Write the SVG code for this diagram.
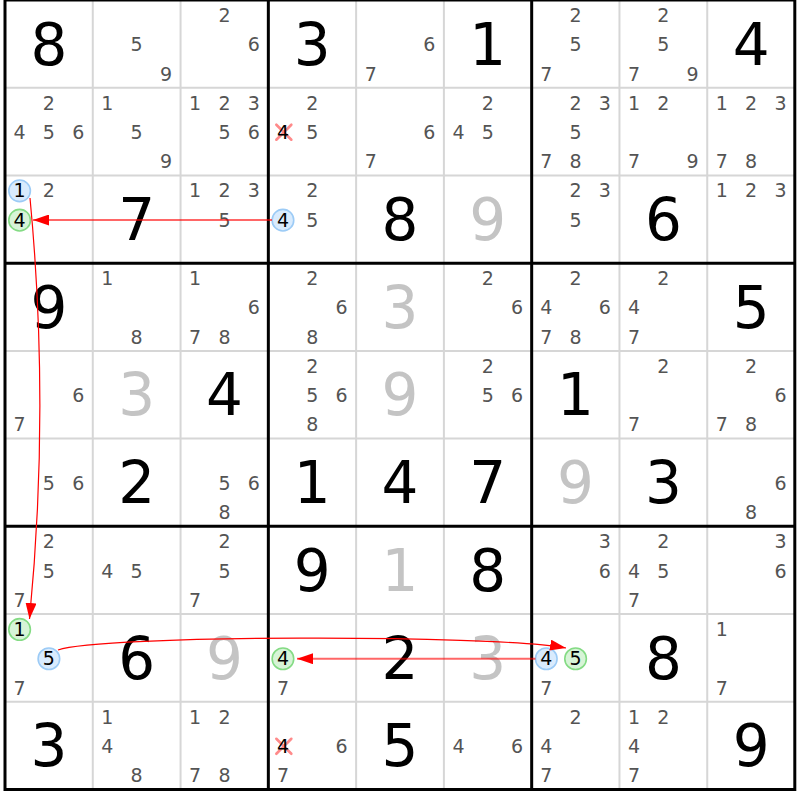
<svg xmlns="http://www.w3.org/2000/svg" width="800" height="800" viewBox="0 0 800 800">
<defs>
<style>
text{font-family:"DejaVu Sans","Liberation Sans",sans-serif;text-anchor:middle}
.c{font-size:19px;fill:#545454}
.k{font-size:19px;fill:#000}
.g{font-size:58px;fill:#000}
.s{font-size:58px;fill:#c4c4c4}
.thin{stroke:#d6d6d6;stroke-width:2}
.thick{stroke:#000;stroke-width:3}
.bl{fill:#d9ebfd;stroke:#9ccbf6;stroke-width:1.6}
.gr{fill:#d7f4d7;stroke:#84db84;stroke-width:1.6}
.x{stroke:#ff8a8a;stroke-width:2.6;stroke-linecap:round}
.lk{fill:none;stroke:#ff0000;stroke-width:2;stroke-opacity:0.6}
.cv{fill:none;stroke:#ff0000;stroke-width:1.2}
</style>
<marker id="ah" viewBox="0 0 16 11" refX="16" refY="5.5" markerWidth="16" markerHeight="11" markerUnits="userSpaceOnUse" orient="auto"><path d="M0,0 L16,5.5 L0,11 z" fill="#ff0000"/></marker>
</defs>
<rect x="0" y="0" width="800" height="800" fill="#fff"/>
<g id="grid">
<path class="thin" d="M92.78,0V789.5M180.56,0V789.5M356.12,0V789.5M443.9,0V789.5M619.46,0V789.5M707.24,0V789.5M5,87.72H794.8M5,175.44H794.8M5,350.88H794.8M5,438.6H794.8M5,614.04H794.8M5,701.76H794.8"/>
<path class="thick" d="M268.34,0V789.5M531.68,0V789.5M5,263.16H794.8M5,526.32H794.8"/>
<rect class="thick" x="5" y="0" width="789.8" height="789.5" fill="none"/>
</g>
<!-- row 1 -->
<g id="r1c1" transform="translate(5,0)"><text class="g" x="43.9" y="64.5">8</text></g>
<g id="r1c2" transform="translate(92.78,0)"><text class="c" x="43.9" y="51.3">5</text><text class="c" x="73.2" y="80.6">9</text></g>
<g id="r1c3" transform="translate(180.56,0)"><text class="c" x="43.9" y="22">2</text><text class="c" x="73.2" y="51.3">6</text></g>
<g id="r1c4" transform="translate(268.34,0)"><text class="g" x="43.9" y="64.5">3</text></g>
<g id="r1c5" transform="translate(356.12,0)"><text class="c" x="73.2" y="51.3">6</text><text class="c" x="14.6" y="80.6">7</text></g>
<g id="r1c6" transform="translate(443.9,0)"><text class="g" x="43.9" y="64.5">1</text></g>
<g id="r1c7" transform="translate(531.68,0)"><text class="c" x="43.9" y="22">2</text><text class="c" x="43.9" y="51.3">5</text><text class="c" x="14.6" y="80.6">7</text></g>
<g id="r1c8" transform="translate(619.46,0)"><text class="c" x="43.9" y="22">2</text><text class="c" x="43.9" y="51.3">5</text><text class="c" x="14.6" y="80.6">7</text><text class="c" x="73.2" y="80.6">9</text></g>
<g id="r1c9" transform="translate(707.24,0)"><text class="g" x="43.9" y="64.5">4</text></g>
<!-- row 2 -->
<g id="r2c1" transform="translate(5,87.72)"><text class="c" x="43.9" y="22">2</text><text class="c" x="14.6" y="51.3">4</text><text class="c" x="43.9" y="51.3">5</text><text class="c" x="73.2" y="51.3">6</text></g>
<g id="r2c2" transform="translate(92.78,87.72)"><text class="c" x="14.6" y="22">1</text><text class="c" x="43.9" y="51.3">5</text><text class="c" x="73.2" y="80.6">9</text></g>
<g id="r2c3" transform="translate(180.56,87.72)"><text class="c" x="14.6" y="22">1</text><text class="c" x="43.9" y="22">2</text><text class="c" x="73.2" y="22">3</text><text class="c" x="43.9" y="51.3">5</text><text class="c" x="73.2" y="51.3">6</text></g>
<g id="r2c4" transform="translate(268.34,87.72)"><text class="c" x="43.9" y="22">2</text><path class="x" d="M8,37L23,52M23,37L8,52"/><text class="k" x="14.6" y="51.3">4</text><text class="c" x="43.9" y="51.3">5</text></g>
<g id="r2c5" transform="translate(356.12,87.72)"><text class="c" x="73.2" y="51.3">6</text><text class="c" x="14.6" y="80.6">7</text></g>
<g id="r2c6" transform="translate(443.9,87.72)"><text class="c" x="43.9" y="22">2</text><text class="c" x="14.6" y="51.3">4</text><text class="c" x="43.9" y="51.3">5</text></g>
<g id="r2c7" transform="translate(531.68,87.72)"><text class="c" x="43.9" y="22">2</text><text class="c" x="73.2" y="22">3</text><text class="c" x="43.9" y="51.3">5</text><text class="c" x="14.6" y="80.6">7</text><text class="c" x="43.9" y="80.6">8</text></g>
<g id="r2c8" transform="translate(619.46,87.72)"><text class="c" x="14.6" y="22">1</text><text class="c" x="43.9" y="22">2</text><text class="c" x="14.6" y="80.6">7</text><text class="c" x="73.2" y="80.6">9</text></g>
<g id="r2c9" transform="translate(707.24,87.72)"><text class="c" x="14.6" y="22">1</text><text class="c" x="43.9" y="22">2</text><text class="c" x="73.2" y="22">3</text><text class="c" x="14.6" y="80.6">7</text><text class="c" x="43.9" y="80.6">8</text></g>
<!-- row 3 -->
<g id="r3c1" transform="translate(5,175.44)"><circle class="bl" cx="14.6" cy="15.4" r="10.8"/><text class="k" x="14.6" y="22">1</text><text class="c" x="43.9" y="22">2</text><circle class="gr" cx="14.6" cy="44.7" r="10.8"/><text class="k" x="14.6" y="51.3">4</text></g>
<g id="r3c2" transform="translate(92.78,175.44)"><text class="g" x="43.9" y="64.5">7</text></g>
<g id="r3c3" transform="translate(180.56,175.44)"><text class="c" x="14.6" y="22">1</text><text class="c" x="43.9" y="22">2</text><text class="c" x="73.2" y="22">3</text><text class="c" x="43.9" y="51.3">5</text></g>
<g id="r3c4" transform="translate(268.34,175.44)"><text class="c" x="43.9" y="22">2</text><circle class="bl" cx="14.6" cy="44.7" r="10.8"/><text class="k" x="14.6" y="51.3">4</text><text class="c" x="43.9" y="51.3">5</text></g>
<g id="r3c5" transform="translate(356.12,175.44)"><text class="g" x="43.9" y="64.5">8</text></g>
<g id="r3c6" transform="translate(443.9,175.44)"><text class="s" x="43.9" y="64.5">9</text></g>
<g id="r3c7" transform="translate(531.68,175.44)"><text class="c" x="43.9" y="22">2</text><text class="c" x="73.2" y="22">3</text><text class="c" x="43.9" y="51.3">5</text></g>
<g id="r3c8" transform="translate(619.46,175.44)"><text class="g" x="43.9" y="64.5">6</text></g>
<g id="r3c9" transform="translate(707.24,175.44)"><text class="c" x="14.6" y="22">1</text><text class="c" x="43.9" y="22">2</text><text class="c" x="73.2" y="22">3</text></g>
<!-- row 4 -->
<g id="r4c1" transform="translate(5,263.16)"><text class="g" x="43.9" y="64.5">9</text></g>
<g id="r4c2" transform="translate(92.78,263.16)"><text class="c" x="14.6" y="22">1</text><text class="c" x="43.9" y="80.6">8</text></g>
<g id="r4c3" transform="translate(180.56,263.16)"><text class="c" x="14.6" y="22">1</text><text class="c" x="73.2" y="51.3">6</text><text class="c" x="14.6" y="80.6">7</text><text class="c" x="43.9" y="80.6">8</text></g>
<g id="r4c4" transform="translate(268.34,263.16)"><text class="c" x="43.9" y="22">2</text><text class="c" x="73.2" y="51.3">6</text><text class="c" x="43.9" y="80.6">8</text></g>
<g id="r4c5" transform="translate(356.12,263.16)"><text class="s" x="43.9" y="64.5">3</text></g>
<g id="r4c6" transform="translate(443.9,263.16)"><text class="c" x="43.9" y="22">2</text><text class="c" x="73.2" y="51.3">6</text></g>
<g id="r4c7" transform="translate(531.68,263.16)"><text class="c" x="43.9" y="22">2</text><text class="c" x="14.6" y="51.3">4</text><text class="c" x="73.2" y="51.3">6</text><text class="c" x="14.6" y="80.6">7</text><text class="c" x="43.9" y="80.6">8</text></g>
<g id="r4c8" transform="translate(619.46,263.16)"><text class="c" x="43.9" y="22">2</text><text class="c" x="14.6" y="51.3">4</text><text class="c" x="14.6" y="80.6">7</text></g>
<g id="r4c9" transform="translate(707.24,263.16)"><text class="g" x="43.9" y="64.5">5</text></g>
<!-- row 5 -->
<g id="r5c1" transform="translate(5,350.88)"><text class="c" x="73.2" y="51.3">6</text><text class="c" x="14.6" y="80.6">7</text></g>
<g id="r5c2" transform="translate(92.78,350.88)"><text class="s" x="43.9" y="64.5">3</text></g>
<g id="r5c3" transform="translate(180.56,350.88)"><text class="g" x="43.9" y="64.5">4</text></g>
<g id="r5c4" transform="translate(268.34,350.88)"><text class="c" x="43.9" y="22">2</text><text class="c" x="43.9" y="51.3">5</text><text class="c" x="73.2" y="51.3">6</text><text class="c" x="43.9" y="80.6">8</text></g>
<g id="r5c5" transform="translate(356.12,350.88)"><text class="s" x="43.9" y="64.5">9</text></g>
<g id="r5c6" transform="translate(443.9,350.88)"><text class="c" x="43.9" y="22">2</text><text class="c" x="43.9" y="51.3">5</text><text class="c" x="73.2" y="51.3">6</text></g>
<g id="r5c7" transform="translate(531.68,350.88)"><text class="g" x="43.9" y="64.5">1</text></g>
<g id="r5c8" transform="translate(619.46,350.88)"><text class="c" x="43.9" y="22">2</text><text class="c" x="14.6" y="80.6">7</text></g>
<g id="r5c9" transform="translate(707.24,350.88)"><text class="c" x="43.9" y="22">2</text><text class="c" x="73.2" y="51.3">6</text><text class="c" x="14.6" y="80.6">7</text><text class="c" x="43.9" y="80.6">8</text></g>
<!-- row 6 -->
<g id="r6c1" transform="translate(5,438.6)"><text class="c" x="43.9" y="51.3">5</text><text class="c" x="73.2" y="51.3">6</text></g>
<g id="r6c2" transform="translate(92.78,438.6)"><text class="g" x="43.9" y="64.5">2</text></g>
<g id="r6c3" transform="translate(180.56,438.6)"><text class="c" x="43.9" y="51.3">5</text><text class="c" x="73.2" y="51.3">6</text><text class="c" x="43.9" y="80.6">8</text></g>
<g id="r6c4" transform="translate(268.34,438.6)"><text class="g" x="43.9" y="64.5">1</text></g>
<g id="r6c5" transform="translate(356.12,438.6)"><text class="g" x="43.9" y="64.5">4</text></g>
<g id="r6c6" transform="translate(443.9,438.6)"><text class="g" x="43.9" y="64.5">7</text></g>
<g id="r6c7" transform="translate(531.68,438.6)"><text class="s" x="43.9" y="64.5">9</text></g>
<g id="r6c8" transform="translate(619.46,438.6)"><text class="g" x="43.9" y="64.5">3</text></g>
<g id="r6c9" transform="translate(707.24,438.6)"><text class="c" x="73.2" y="51.3">6</text><text class="c" x="43.9" y="80.6">8</text></g>
<!-- row 7 -->
<g id="r7c1" transform="translate(5,526.32)"><text class="c" x="43.9" y="22">2</text><text class="c" x="43.9" y="51.3">5</text><text class="c" x="14.6" y="80.6">7</text></g>
<g id="r7c2" transform="translate(92.78,526.32)"><text class="c" x="14.6" y="51.3">4</text><text class="c" x="43.9" y="51.3">5</text></g>
<g id="r7c3" transform="translate(180.56,526.32)"><text class="c" x="43.9" y="22">2</text><text class="c" x="43.9" y="51.3">5</text><text class="c" x="14.6" y="80.6">7</text></g>
<g id="r7c4" transform="translate(268.34,526.32)"><text class="g" x="43.9" y="64.5">9</text></g>
<g id="r7c5" transform="translate(356.12,526.32)"><text class="s" x="43.9" y="64.5">1</text></g>
<g id="r7c6" transform="translate(443.9,526.32)"><text class="g" x="43.9" y="64.5">8</text></g>
<g id="r7c7" transform="translate(531.68,526.32)"><text class="c" x="73.2" y="22">3</text><text class="c" x="73.2" y="51.3">6</text></g>
<g id="r7c8" transform="translate(619.46,526.32)"><text class="c" x="43.9" y="22">2</text><text class="c" x="14.6" y="51.3">4</text><text class="c" x="43.9" y="51.3">5</text><text class="c" x="14.6" y="80.6">7</text></g>
<g id="r7c9" transform="translate(707.24,526.32)"><text class="c" x="73.2" y="22">3</text><text class="c" x="73.2" y="51.3">6</text></g>
<!-- row 8 -->
<g id="r8c1" transform="translate(5,614.04)"><circle class="gr" cx="14.6" cy="15.4" r="10.8"/><text class="k" x="14.6" y="22">1</text><circle class="bl" cx="43.9" cy="44.7" r="10.8"/><text class="k" x="43.9" y="51.3">5</text><text class="c" x="14.6" y="80.6">7</text></g>
<g id="r8c2" transform="translate(92.78,614.04)"><text class="g" x="43.9" y="64.5">6</text></g>
<g id="r8c3" transform="translate(180.56,614.04)"><text class="s" x="43.9" y="64.5">9</text></g>
<g id="r8c4" transform="translate(268.34,614.04)"><circle class="gr" cx="14.6" cy="44.7" r="10.8"/><text class="k" x="14.6" y="51.3">4</text><text class="c" x="14.6" y="80.6">7</text></g>
<g id="r8c5" transform="translate(356.12,614.04)"><text class="g" x="43.9" y="64.5">2</text></g>
<g id="r8c6" transform="translate(443.9,614.04)"><text class="s" x="43.9" y="64.5">3</text></g>
<g id="r8c7" transform="translate(531.68,614.04)"><circle class="bl" cx="14.6" cy="44.7" r="10.8"/><text class="k" x="14.6" y="51.3">4</text><circle class="gr" cx="43.9" cy="44.7" r="10.8"/><text class="k" x="43.9" y="51.3">5</text><text class="c" x="14.6" y="80.6">7</text></g>
<g id="r8c8" transform="translate(619.46,614.04)"><text class="g" x="43.9" y="64.5">8</text></g>
<g id="r8c9" transform="translate(707.24,614.04)"><text class="c" x="14.6" y="22">1</text><text class="c" x="14.6" y="80.6">7</text></g>
<!-- row 9 -->
<g id="r9c1" transform="translate(5,701.76)"><text class="g" x="43.9" y="64.5">3</text></g>
<g id="r9c2" transform="translate(92.78,701.76)"><text class="c" x="14.6" y="22">1</text><text class="c" x="14.6" y="51.3">4</text><text class="c" x="43.9" y="80.6">8</text></g>
<g id="r9c3" transform="translate(180.56,701.76)"><text class="c" x="14.6" y="22">1</text><text class="c" x="43.9" y="22">2</text><text class="c" x="14.6" y="80.6">7</text><text class="c" x="43.9" y="80.6">8</text></g>
<g id="r9c4" transform="translate(268.34,701.76)"><path class="x" d="M8,37L23,52M23,37L8,52"/><text class="k" x="14.6" y="51.3">4</text><text class="c" x="73.2" y="51.3">6</text><text class="c" x="14.6" y="80.6">7</text></g>
<g id="r9c5" transform="translate(356.12,701.76)"><text class="g" x="43.9" y="64.5">5</text></g>
<g id="r9c6" transform="translate(443.9,701.76)"><text class="c" x="14.6" y="51.3">4</text><text class="c" x="73.2" y="51.3">6</text></g>
<g id="r9c7" transform="translate(531.68,701.76)"><text class="c" x="43.9" y="22">2</text><text class="c" x="14.6" y="51.3">4</text><text class="c" x="14.6" y="80.6">7</text></g>
<g id="r9c8" transform="translate(619.46,701.76)"><text class="c" x="14.6" y="22">1</text><text class="c" x="43.9" y="22">2</text><text class="c" x="14.6" y="51.3">4</text><text class="c" x="14.6" y="80.6">7</text></g>
<g id="r9c9" transform="translate(707.24,701.76)"><text class="g" x="43.9" y="64.5">9</text></g>
<g id="connectors">
<line class="lk" x1="272" y1="220" x2="33" y2="220" marker-end="url(#ah)"/>
<path class="cv" d="M30,198 Q50,408 29.5,619" marker-end="url(#ah)"/>
<path class="cv" d="M58,650 C100,635 490,634 566,648" marker-end="url(#ah)"/>
<line class="lk" x1="535.5" y1="658.7" x2="297" y2="658.7" marker-end="url(#ah)"/>
</g>
</svg>
